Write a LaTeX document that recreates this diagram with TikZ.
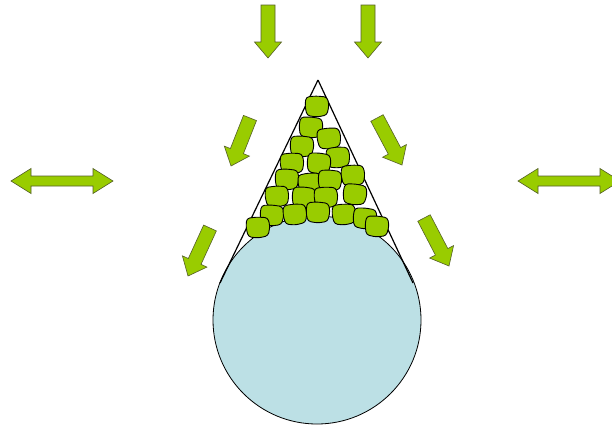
\documentclass[tikz,border=0pt]{standalone}
\usetikzlibrary{calc}
\definecolor{leaf}{RGB}{153,204,0}
\definecolor{leafrim}{RGB}{85,95,40}
\definecolor{drum}{RGB}{188,224,229}
\tikzset{
  arrowbody/.style={fill=leaf, draw=leafrim, line width=0.6pt, line join=miter},
  pebblestyle/.style={fill=leaf, draw=black, line width=0.9pt, rounded corners=3pt},
  wall/.style={draw=black, line width=1.2pt},
}
% single-headed block arrow from tail #1 to tip #2
\newcommand\blockarrow[2]{%
  \path[arrowbody]
    ($(#1)!7pt!90:(#2)$) -- ($($(#2)!16pt!(#1)$)!7pt!90:(#2)$)
    -- ($($(#2)!16pt!(#1)$)!13.5pt!90:(#2)$) -- (#2)
    -- ($($(#2)!16pt!(#1)$)!13.5pt!-90:(#2)$)
    -- ($($(#2)!16pt!(#1)$)!7pt!-90:(#2)$)
    -- ($(#1)!7pt!-90:(#2)$) -- cycle;}
% double-headed block arrow between tips #1 and #2
\newcommand\twowayarrow[2]{%
  \path[arrowbody]
    (#1) -- ($($(#1)!20pt!(#2)$)!12.5pt!90:(#2)$)
    -- ($($(#1)!20pt!(#2)$)!5pt!90:(#2)$)
    -- ($($(#2)!20pt!(#1)$)!5pt!90:(#2)$)
    -- ($($(#2)!20pt!(#1)$)!12.5pt!90:(#2)$) -- (#2)
    -- ($($(#2)!20pt!(#1)$)!12.5pt!-90:(#2)$)
    -- ($($(#2)!20pt!(#1)$)!5pt!-90:(#2)$)
    -- ($($(#1)!20pt!(#2)$)!5pt!-90:(#2)$)
    -- ($($(#1)!20pt!(#2)$)!12.5pt!-90:(#2)$) -- cycle;}
% one rounded granule centred at (#1,#2), turned by #3
\newcommand\pebble[3]{%
  \path[pebblestyle, shift={(#1,#2)}, rotate=#3]
    (-11,-9) -- (-1,-10) -- (10,-9) -- (12,-1) -- (10,9) -- (0,11) -- (-10,9.5) -- (-12,0) -- cycle;}
\begin{document}
\begin{tikzpicture}[x=1pt,y=-1pt]
  \clip (0,0) rectangle (612,429);
  \fill[white] (0,0) rectangle (612,429);

  % drum
  \node[circle, draw=black, line width=0.8pt, fill=drum, minimum size=208pt, inner sep=0pt] (drum) at (317,320) {};

  % wedge walls
  \coordinate (apex) at (318,80);
  \coordinate (wl) at (220,283);
  \coordinate (wr) at (413,283);
  \draw[wall] (apex) -- (wl);
  \draw[wall] (apex) -- (wr);

  % granules inside the wedge
  \pebble{317}{106}{0}
  \pebble{311}{127}{-4}
  \pebble{329}{138}{5}
  \pebble{302}{146}{-3}
  \pebble{338}{157}{4}
  \pebble{292}{163}{2}
  \pebble{319}{163}{-5}
  \pebble{353}{175}{3}
  \pebble{287}{179}{-2}
  \pebble{310}{183}{6}
  \pebble{330}{180}{-3}
  \pebble{277}{196}{3}
  \pebble{304}{197}{-4}
  \pebble{326}{197}{2}
  \pebble{355}{194}{-6}
  \pebble{272}{215}{-3}
  \pebble{295}{214}{4}
  \pebble{318}{212}{-2}
  \pebble{344}{214}{3}
  \pebble{365}{218}{-5}
  \pebble{258}{227}{2}
  \pebble{377}{226}{-4}

  % vertical load arrows
  \coordinate (t1a) at (268,5);   \coordinate (t1b) at (268,58);
  \coordinate (t2a) at (368,5);   \coordinate (t2b) at (368,58);
  \blockarrow{t1a}{t1b}
  \blockarrow{t2a}{t2b}

  % inclined arrows on both sides of the wedge
  \coordinate (d1a) at (250,118); \coordinate (d1b) at (231,166);
  \coordinate (d2a) at (210,228); \coordinate (d2b) at (188,276);
  \coordinate (d3a) at (377,118); \coordinate (d3b) at (402,165);
  \coordinate (d4a) at (424,218); \coordinate (d4b) at (449,266);
  \blockarrow{d1a}{d1b}
  \blockarrow{d2a}{d2b}
  \blockarrow{d3a}{d3b}
  \blockarrow{d4a}{d4b}

  % horizontal two-way arrows
  \coordinate (h1a) at (11,181);  \coordinate (h1b) at (113,181);
  \coordinate (h2a) at (518,181); \coordinate (h2b) at (620,181);
  \twowayarrow{h1a}{h1b}
  \twowayarrow{h2a}{h2b}
\end{tikzpicture}
\end{document}
